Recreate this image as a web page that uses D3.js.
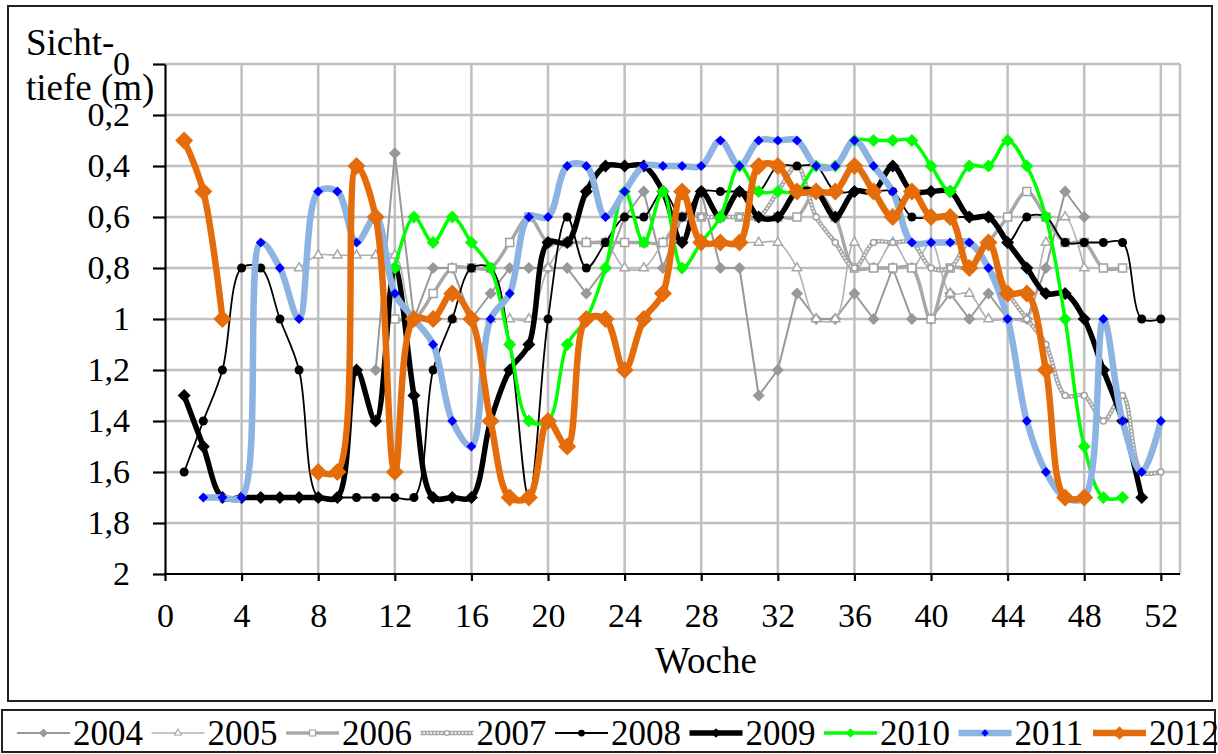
<!DOCTYPE html>
<html>
<head>
<meta charset="utf-8">
<script src="https://cdn.jsdelivr.net/npm/d3@7"></script>
</head>
<body style="margin:0; background:#fff">
<div id="chart"></div>
<script>
// Sichttiefe (m) je Woche; erster Wert gehoert zur Startwoche, null = keine Messung
const years = ['2004', '2005', '2006', '2007', '2008', '2009', '2010', '2011', '2012']

const start2004 = 11
const depth2004 = [1.2, 0.35, 1.0, 0.8, 0.8, 1.0, 0.9, 0.8, 0.8, 0.8, 0.8, 0.9, 0.8, 0.6, 0.5, 0.8, 0.6, 0.5, 0.8, 0.8,
  1.3, 1.2, 0.9, 1.0, 1.0, 0.9, 1.0, 0.8, 1.0, 1.0, 0.9, 1.0, 0.9, 1.0, 1.0, 0.8, 0.5, 0.6]

const start2005 = 7
const depth2005 = [0.8, 0.75, 0.75, 0.75, 0.75, 0.75, 1.0, 1.0, 1.0, 1.0, 1.0, 1.0, 1.0, 0.8, 0.7, 0.7, 0.7, 0.8, 0.8, 0.7,
  0.6, 0.7, 0.7, 0.7, 0.7, 0.7, 0.8, 1.0, 1.0, 0.7, 0.8, 0.7, 0.8, 0.7, 0.9, 0.9, 1.0, 1.0, 1.0, 0.7, 0.6, 0.8]

const start2006 = 12
const depth2006 = [1.0, 1.0, 0.9, 0.8, 0.8, 0.8, 0.7, 0.6, 0.7, 0.7, 0.7, 0.7, 0.7, 0.7, 0.7, 0.6, 0.6, 0.6, 0.6, 0.6,
  0.6, 0.6, 0.5, 0.6, 0.8, 0.8, 0.8, 0.8, 1.0, 0.8, 0.8, 0.7, 0.6, 0.5, 0.6, 0.7, 0.7, 0.8, 0.8]

const start2007 = 28
const depth2007 = [0.6, 0.6, 0.6, 0.6, 0.5, 0.4, 0.6, 0.7, 0.8, 0.7, 0.7, 0.7, 0.8, 0.8, 0.7, 0.8, 0.9, 1.0, 1.1, 1.3,
  1.3, 1.4, 1.3, 1.6, 1.6]

const start2008 = 1
const depth2008 = [1.6, 1.4, 1.2, 0.8, 0.8, 1.0, 1.2, 1.7, 1.7, 1.7, 1.7, 1.7, 1.7, 1.2, 1.0, 0.8, 0.8, 1.1, 1.7, 1.0,
  0.6, 0.8, 0.7, 0.6, 0.6, 0.5, 0.6, 0.5, 0.5, 0.5, 0.5, 0.4, 0.4, 0.4, 0.5, 0.5, 0.5, 0.5, 0.6, 0.6,
  0.6, 0.6, 0.6, 0.7, 0.6, 0.6, 0.7, 0.7, 0.7, 0.7, 1.0, 1.0]

const start2009 = 1
const depth2009 = [1.3, 1.5, 1.7, 1.7, 1.7, 1.7, 1.7, 1.7, 1.7, 1.2, 1.4, 0.8, 1.3, 1.7, 1.7, 1.7, 1.4, 1.2, 1.1, 0.7,
  0.7, 0.5, 0.4, 0.4, 0.4, 0.5, 0.7, 0.5, 0.6, 0.5, 0.6, 0.6, 0.5, 0.5, 0.6, 0.5, 0.5, 0.4, 0.5, 0.5,
  0.5, 0.6, 0.6, 0.7, 0.8, 0.9, 0.9, 1.0, 1.2, 1.4, 1.7]

const start2010 = 12
const depth2010 = [0.8, 0.6, 0.7, 0.6, 0.7, 0.8, 1.1, 1.4, 1.4, 1.1, 1.0, 0.8, 0.5, 0.7, 0.5, 0.8, 0.7, 0.6, 0.4, 0.5,
  0.5, 0.5, 0.4, 0.4, 0.3, 0.3, 0.3, 0.3, 0.4, 0.5, 0.4, 0.4, 0.3, 0.4, 0.6, 1.0, 1.5, 1.7, 1.7]

const start2011 = 2
const depth2011 = [1.7, 1.7, 1.7, 0.7, 0.8, 1.0, 0.5, 0.5, 0.7, 0.6, 0.9, 1.0, 1.1, 1.4, 1.5, 1.0, 0.9, 0.6, 0.6, 0.4,
  0.4, 0.6, 0.5, 0.4, 0.4, 0.4, 0.4, 0.3, 0.4, 0.3, 0.3, 0.3, 0.4, 0.4, 0.3, 0.4, 0.5, 0.7, 0.7, 0.7,
  0.7, 0.8, 1.0, 1.4, 1.6, 1.7, 1.7, 1.0, 1.4, 1.6, 1.4]

const start2012 = 1
const depth2012 = [0.3, 0.5, 1.0, null, null, null, null, 1.6, 1.6, 0.4, 0.6, 1.6, 1.0, 1.0, 0.9, 1.0, 1.4, 1.7, 1.7, 1.4,
  1.5, 1.0, 1.0, 1.2, 1.0, 0.9, 0.5, 0.7, 0.7, 0.7, 0.4, 0.4, 0.5, 0.5, 0.5, 0.4, 0.5, 0.6, 0.5, 0.6,
  0.6, 0.8, 0.7, 0.9, 0.9, 1.2, 1.7, 1.7]

const xTicks = [0, 4, 8, 12, 16, 20, 24, 28, 32, 36, 40, 44, 48, 52]
const yTicks = [0, 0.2, 0.4, 0.6, 0.8, 1, 1.2, 1.4, 1.6, 1.8, 2]

const starts = [start2004, start2005, start2006, start2007, start2008, start2009, start2010, start2011, start2012]
const depths = [depth2004, depth2005, depth2006, depth2007, depth2008, depth2009, depth2010, depth2011, depth2012]

// Aussehen der Reihen (wie im Excel-Original)
const STYLE = {
  '2004': { line: '#989898', width: 2, smooth: false, marker: 'diamond', size: 12, fill: '#989898', stroke: 'none' },
  '2005': { line: '#b2b2b2', width: 1.6, smooth: true, marker: 'triangle', size: 9, fill: '#fff', stroke: '#a8a8a8' },
  '2006': { line: '#a8a8a8', width: 3.5, smooth: true, marker: 'square', size: 8, fill: '#fff', stroke: '#a0a0a0' },
  '2007': { line: '#a8a8a8', width: 4.5, smooth: true, marker: 'circle', size: 6, fill: '#fff', stroke: '#a0a0a0', dots: true },
  '2008': { line: '#000', width: 1.8, smooth: true, marker: 'circle', size: 9, fill: '#000', stroke: 'none' },
  '2009': { line: '#000', width: 5.5, smooth: true, marker: 'diamond', size: 13, fill: '#000', stroke: 'none' },
  '2010': { line: '#00ff00', width: 3.5, smooth: true, marker: 'diamond', size: 13, fill: '#00ff00', stroke: 'none' },
  '2011': { line: '#8db3e2', width: 6.5, smooth: true, marker: 'diamond', size: 10, fill: '#0000ff', stroke: 'none' },
  '2012': { line: '#e46c0a', width: 6.5, smooth: true, marker: 'diamond', size: 18, fill: '#e46c0a', stroke: 'none' }
}

const FONT = '"Liberation Serif", "Times New Roman", serif'
const WIDTH = 1218
const HEIGHT = 754
const PLOT = { LEFT: 165, RIGHT: 1180, TOP: 64, BOTTOM: 574 }

const series = years.map((year, i) => ({
  year,
  points: depths[i].map((v, k) => ({ week: starts[i] + k, v }))
}))

const svg = d3.select('#chart').append('svg')
  .attr('width', WIDTH)
  .attr('height', HEIGHT)
  .style('display', 'block')

const x = d3.scaleLinear().domain([0, 53]).range([PLOT.LEFT, PLOT.RIGHT])
const y = d3.scaleLinear().domain([0, 2]).range([PLOT.TOP, PLOT.BOTTOM])

const fmt = v => String(+v.toFixed(1)).replace('.', ',')

// Rahmen
svg.append('rect')
  .attr('x', 8).attr('y', 6).attr('width', 1204).attr('height', 695)
  .style('fill', 'none').style('stroke', '#222').style('stroke-width', 2)
svg.append('rect')
  .attr('x', 2).attr('y', 710).attr('width', 1213).attr('height', 42)
  .style('fill', 'none').style('stroke', '#222').style('stroke-width', 2)

// Gitter
const grid = svg.append('g')
grid.selectAll('.hgrid')
  .data(yTicks.filter(d => d < 2))
  .enter().append('line')
  .attr('x1', PLOT.LEFT).attr('x2', PLOT.RIGHT)
  .attr('y1', d => y(d)).attr('y2', d => y(d))
  .style('stroke', '#c0c0c0').style('stroke-width', 2.5)
grid.selectAll('.vgrid')
  .data(xTicks.filter(d => d > 0).concat([53]))
  .enter().append('line')
  .attr('x1', d => x(d)).attr('x2', d => x(d))
  .attr('y1', PLOT.TOP).attr('y2', PLOT.BOTTOM)
  .style('stroke', '#c0c0c0').style('stroke-width', 2.5)

// Achsen
const yAxis = svg.append('g')
  .attr('transform', `translate(${PLOT.LEFT}, 0)`)
  .call(d3.axisLeft(y).tickValues(yTicks).tickFormat(fmt).tickSize(12).tickSizeOuter(0).tickPadding(23))
const xAxis = svg.append('g')
  .attr('transform', `translate(0, ${PLOT.BOTTOM})`)
  .call(d3.axisBottom(x).tickValues(xTicks).tickFormat(fmt).tickSize(7).tickSizeOuter(0).tickPadding(22))
xAxis.select('.domain').attr('d', `M${PLOT.LEFT},0H${PLOT.RIGHT}`)

;[xAxis, yAxis].forEach(ax => {
  ax.select('.domain').style('stroke', '#000').style('stroke-width', 2.2)
  ax.selectAll('.tick line').style('stroke', '#000').style('stroke-width', 2.2)
  ax.selectAll('.tick text')
    .style('font-family', FONT)
    .style('font-size', '34px')
    .style('fill', '#000')
})

svg.append('text')
  .attr('x', 706).attr('y', 673)
  .attr('text-anchor', 'middle')
  .style('font-family', FONT)
  .style('font-size', '37px')
  .text('Woche')

const yTitle = svg.append('text')
  .attr('x', 26).attr('y', 55)
  .style('font-family', FONT)
  .style('font-size', '37px')
yTitle.append('tspan').attr('x', 26).text('Sicht-')
yTitle.append('tspan').attr('x', 26).attr('y', 100).text('tiefe (m)')

// Marker
const markerPath = (type, size) => {
  if (type === 'diamond') return d3.symbol(d3.symbolSquare, size * size / 2)()
  if (type === 'triangle') return d3.symbol(d3.symbolTriangle, size * size * 0.45)()
  if (type === 'square') return d3.symbol(d3.symbolSquare, size * size)()
  return d3.symbol(d3.symbolCircle, Math.PI * size * size / 4)()
}
const markerRot = type => type === 'diamond' ? ' rotate(45)' : ''

const lineSmooth = d3.line()
  .defined(d => d.v != null)
  .x(d => x(d.week))
  .y(d => y(d.v))
  .curve(d3.curveCatmullRom.alpha(0.5))
const lineStraight = d3.line()
  .defined(d => d.v != null)
  .x(d => x(d.week))
  .y(d => y(d.v))

const plot = svg.append('g')

series.forEach(s => {
  const st = STYLE[s.year]
  const g = plot.append('g').attr('class', `series y${s.year}`)
  const gen = st.smooth ? lineSmooth : lineStraight
  g.append('path')
    .attr('d', gen(s.points))
    .style('fill', 'none')
    .style('stroke', st.line)
    .style('stroke-width', st.width)
    .style('stroke-linejoin', 'round')
  if (st.dots) {
    g.append('path')
      .attr('d', gen(s.points))
      .style('fill', 'none')
      .style('stroke', '#fff')
      .style('stroke-width', 1.8)
      .style('stroke-linecap', 'round')
      .style('stroke-dasharray', '0.1,3.4')
  }
  g.selectAll('.mark')
    .data(s.points.filter(d => d.v != null))
    .enter().append('path')
    .attr('d', markerPath(st.marker, st.size))
    .attr('transform', d => `translate(${x(d.week)}, ${y(d.v)})${markerRot(st.marker)}`)
    .style('fill', st.fill)
    .style('stroke', st.stroke)
    .style('stroke-width', 1.5)
})

// Legende
const legend = svg.append('g')
years.forEach((year, i) => {
  const st = STYLE[year]
  const x0 = 17 + i * 134.5
  const ly = 733
  const item = legend.append('g')
  item.append('line')
    .attr('x1', x0).attr('x2', x0 + 53)
    .attr('y1', ly).attr('y2', ly)
    .style('stroke', st.line)
    .style('stroke-width', st.width)
  if (st.dots) {
    item.append('line')
      .attr('x1', x0).attr('x2', x0 + 53)
      .attr('y1', ly).attr('y2', ly)
      .style('stroke', '#fff').style('stroke-width', 1.8)
      .style('stroke-linecap', 'round').style('stroke-dasharray', '0.1,3.4')
  }
  item.append('path')
    .attr('d', markerPath(st.marker, st.size * 0.75))
    .attr('transform', `translate(${x0 + 26.5}, ${ly})${markerRot(st.marker)}`)
    .style('fill', st.fill)
    .style('stroke', st.stroke)
    .style('stroke-width', 1.2)
  item.append('text')
    .attr('x', x0 + 56).attr('y', ly + 12)
    .style('font-family', FONT)
    .style('font-size', '35px')
    .text(year)
})
</script>
</body>
</html>
